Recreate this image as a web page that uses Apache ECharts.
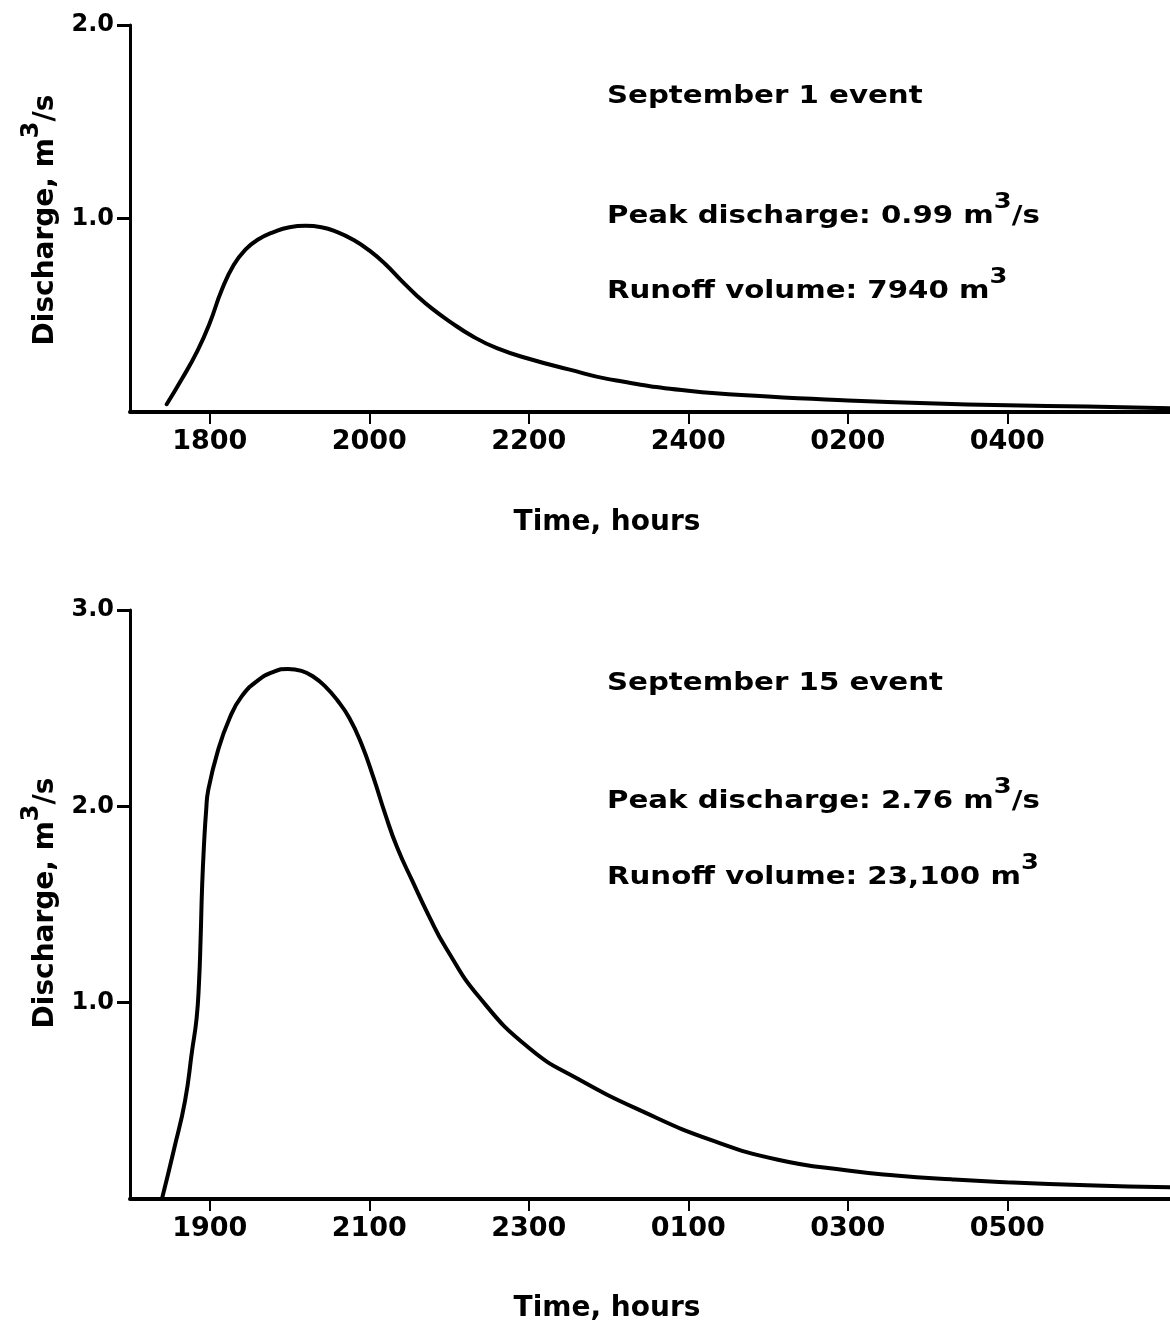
<!DOCTYPE html>
<html>
<head>
<meta charset="utf-8">
<title>Runoff hydrographs</title>
<script src="https://cdn.jsdelivr.net/npm/echarts/dist/echarts.min.js"></script>
<style>
  html, body { margin: 0; padding: 0; background: #fff; }
  #main { width: 1170px; height: 1327px; }
</style>
</head>
<body>
<div id="main"></div>
<script>
// September 1 event (hours counted from midnight before the event, so 25 = 0100 next day)
var sep1Hours = [17.46, 17.65, 17.85, 18.0, 18.15, 18.3, 18.45, 18.6, 18.8, 19.0, 19.2, 19.4, 19.6, 19.8, 20.0,
  20.2, 20.4, 20.6, 20.8, 21.0, 21.3, 21.6, 22.0, 22.5, 23.0, 24.0, 25.0, 26.0, 27.0, 28.0, 29.0, 30.04];
var sep1Flow = [0.04, 0.17, 0.32, 0.46, 0.63, 0.76, 0.84, 0.89, 0.93, 0.955, 0.962, 0.955, 0.93, 0.89, 0.835,
  0.765, 0.68, 0.60, 0.53, 0.47, 0.39, 0.33, 0.275, 0.22, 0.17, 0.11, 0.08, 0.06, 0.045, 0.035, 0.028, 0.02];

// September 15 event
var sep15Hours = [18.4, 18.55, 18.69, 18.78, 18.835, 18.865, 18.885, 18.905, 18.93, 18.955, 18.98, 19.1, 19.25,
  19.4, 19.6, 19.8, 19.98, 20.15, 20.3, 20.45, 20.6, 20.75, 20.9, 21.05, 21.2, 21.35, 21.54, 21.75, 21.96,
  22.375, 23.0, 23.625, 24.46, 25.29, 26.125, 27.0, 27.6, 28.3, 28.9, 30.0, 31.04];
var sep15Flow = [0, 0.25, 0.5, 0.76, 0.92, 1.1, 1.32, 1.6, 1.82, 1.98, 2.08, 2.28, 2.45,
  2.56, 2.64, 2.685, 2.70, 2.69, 2.66, 2.61, 2.54, 2.45, 2.32, 2.15, 1.96, 1.79, 1.62, 1.44, 1.28,
  1.03, 0.77, 0.61, 0.44, 0.30, 0.20, 0.145, 0.12, 0.10, 0.087, 0.07, 0.06];

// tick positions and their labels
var sep1TickHours = [18, 20, 22, 24, 26, 28];
var sep1TickLabels = ['1800', '2000', '2200', '2400', '0200', '0400'];
var sep15TickHours = [19, 21, 23, 25, 27, 29];
var sep15TickLabels = ['1900', '2100', '2300', '0100', '0300', '0500'];
var sep1FlowTicks = [1, 2];
var sep15FlowTicks = [1, 2, 3];

// annotation text
var sep1Notes = ['September 1 event', 'Peak discharge: 0.99 m', 'Runoff volume: 7940 m'];
var sep15Notes = ['September 15 event', 'Peak discharge: 2.76 m', 'Runoff volume: 23,100 m'];

var FONT = '"DejaVu Sans", "Liberation Sans", sans-serif';

function pairs(xs, ys) {
  var out = [];
  for (var i = 0; i < xs.length; i++) out.push([xs[i], ys[i]]);
  return out;
}

function lookup(values, labels) {
  return function (v) {
    for (var i = 0; i < values.length; i++) {
      if (Math.abs(values[i] - v) < 1e-6) return labels[i];
    }
    return '';
  };
}

function xAxisFor(idx, min, max, ticks, labels) {
  return {
    type: 'value', gridIndex: idx, min: min, max: max,
    axisLine: { show: true, onZero: false, lineStyle: { color: '#000', width: 4 } },
    axisTick: { show: true, customValues: ticks, length: 12, lineStyle: { color: '#000', width: 2 } },
    axisLabel: {
      customValues: ticks, margin: 16, color: '#000', fontFamily: FONT, fontWeight: 'bold', fontSize: 27,
      formatter: lookup(ticks, labels)
    },
    splitLine: { show: false }
  };
}

function yAxisFor(idx, max, ticks) {
  return {
    type: 'value', gridIndex: idx, min: 0, max: max,
    axisLine: { show: true, lineStyle: { color: '#000', width: 3 } },
    axisTick: { show: true, customValues: ticks, length: 13, lineStyle: { color: '#000', width: 3 } },
    axisLabel: {
      customValues: ticks, margin: 16, color: '#000', fontFamily: FONT, fontWeight: 'bold', fontSize: 24,
      formatter: function (v) { return v.toFixed(1); }
    },
    splitLine: { show: false }
  };
}

// the original lettering is small but widely spaced, so the notes get stretched sideways a bit
var noteRich = {
  a: { fontFamily: FONT, fontWeight: 'bold', fontSize: 25, lineHeight: 30, color: '#000', verticalAlign: 'bottom' },
  s: { fontFamily: FONT, fontWeight: 'bold', fontSize: 22, lineHeight: 24, color: '#000', verticalAlign: 'bottom',
       padding: [0, 0, 16, 0] }
};
var NOTE_STRETCH = 1.17;

function note(x, y, txt, sup, tail) {
  var t = '{a|' + txt + '}';
  if (sup) t += '{s|3}';
  if (tail) t += '{a|' + tail + '}';
  return {
    type: 'text', x: x, y: y, scaleX: NOTE_STRETCH,
    style: { text: t, rich: noteRich, align: 'left', verticalAlign: 'middle' }
  };
}

var titleRich = {
  a: { fontFamily: FONT, fontWeight: 'bold', fontSize: 28, lineHeight: 32, color: '#000', verticalAlign: 'bottom' },
  s: { fontFamily: FONT, fontWeight: 'bold', fontSize: 24, lineHeight: 26, color: '#000', verticalAlign: 'bottom',
       padding: [0, 0, 16, 0] }
};

function yTitle(x, y) {
  return {
    type: 'text', x: x, y: y, rotation: Math.PI / 2,
    style: { text: '{a|Discharge, m}{s|3}{a|/s}', rich: titleRich, align: 'center', verticalAlign: 'middle' }
  };
}

function xTitle(x, y) {
  return {
    type: 'text', x: x, y: y,
    style: { text: 'Time, hours', fontFamily: FONT, fontWeight: 'bold', fontSize: 28, fill: '#000',
      align: 'center', verticalAlign: 'middle' }
  };
}

var chart = echarts.init(document.getElementById('main'), null, { renderer: 'canvas' });

chart.setOption({
  backgroundColor: '#fff',
  animation: false,
  grid: [
    { left: 130, top: 25, width: 1040, height: 387 },
    { left: 130, top: 610, width: 1040, height: 589 }
  ],
  xAxis: [
    xAxisFor(0, 17, 30.04, sep1TickHours, sep1TickLabels),
    xAxisFor(1, 18, 31.04, sep15TickHours, sep15TickLabels)
  ],
  yAxis: [
    yAxisFor(0, 2, sep1FlowTicks),
    yAxisFor(1, 3, sep15FlowTicks)
  ],
  series: [
    {
      type: 'line', xAxisIndex: 0, yAxisIndex: 0, data: pairs(sep1Hours, sep1Flow),
      smooth: 0.5, showSymbol: false, clip: true,
      lineStyle: { color: '#000', width: 4, cap: 'round', join: 'round' }
    },
    {
      type: 'line', xAxisIndex: 1, yAxisIndex: 1, data: pairs(sep15Hours, sep15Flow),
      smooth: 0.5, showSymbol: false, clip: true,
      lineStyle: { color: '#000', width: 4, cap: 'round', join: 'round' }
    }
  ],
  graphic: [
    note(607, 94, sep1Notes[0]),
    note(607, 214, sep1Notes[1], true, '/s'),
    note(607, 289, sep1Notes[2], true),
    note(607, 681, sep15Notes[0]),
    note(607, 799, sep15Notes[1], true, '/s'),
    note(607, 875, sep15Notes[2], true),
    yTitle(44, 220),
    yTitle(44, 903),
    xTitle(607, 523),
    xTitle(607, 1309)
  ]
});
</script>
</body>
</html>
